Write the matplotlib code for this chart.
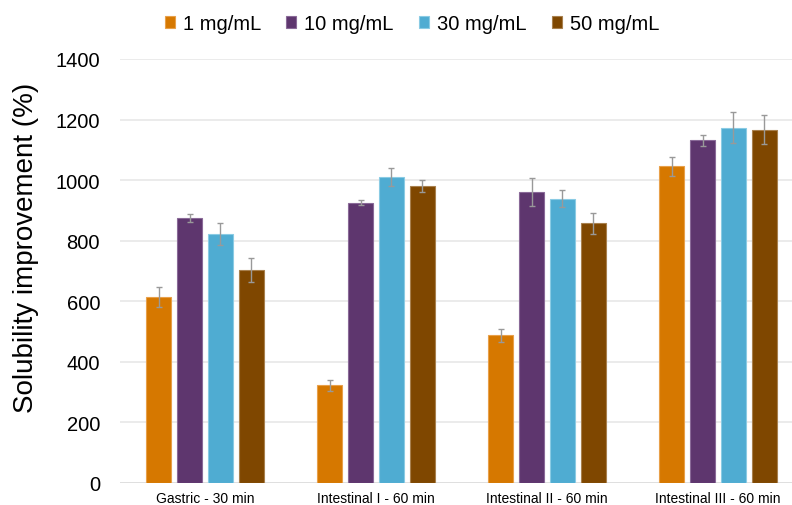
import numpy as np
import matplotlib.pyplot as plt

plt.rcParams['font.family'] = ['Liberation Sans', 'DejaVu Sans']

phases = ['Gastric - 30 min', 'Intestinal I - 60 min', 'Intestinal II - 60 min', 'Intestinal III - 60 min']
conc = ['1 mg/mL', '10 mg/mL', '30 mg/mL', '50 mg/mL']

sol_1 = [614, 323, 487, 1045]
sol_10 = [875, 925, 962, 1131]
sol_30 = [822, 1010, 939, 1173]
sol_50 = [702, 980, 857, 1167]

err_1 = [33, 18, 20, 30]
err_10 = [12, 8, 46, 18]
err_30 = [35, 30, 27, 51]
err_50 = [40, 20, 35, 47]

colors = ['#D67800', '#5E366E', '#4FACD2', '#7F4700']
edges = ['#E8A04A', '#8A6A98', '#8ACBE4', '#A8804E']

values = [sol_1, sol_10, sol_30, sol_50]
errors = [err_1, err_10, err_30, err_50]

fig = plt.figure(figsize=(7.92, 5.06), dpi=100)
# plot area runs a bit past the right edge, as in the original crop
ax = fig.add_axes([0.1509, 0.0435, 0.8636, 0.838])

x = np.arange(len(phases))
bar_width = 0.143
pitch = 0.181
for i in range(4):
    pos = x + (i - 1.5) * pitch
    ax.bar(pos, values[i], width=bar_width, color=colors[i], edgecolor=edges[i],
           linewidth=0.8, label=conc[i], zorder=3)
    ax.errorbar(pos, values[i], yerr=errors[i], fmt='none', ecolor='#999999',
                elinewidth=1.0, capsize=2.5, capthick=1.0, zorder=4)

ax.set_xlim(-0.5, 3.5)
ax.set_ylim(0, 1400)
ax.set_yticks(range(0, 1401, 200))
ax.set_xticks(x)
ax.set_xticklabels(phases, fontsize=10)
ax.tick_params(axis='y', labelsize=14.5, length=0, pad=14)
ax.tick_params(axis='x', length=0, pad=6)
ax.yaxis.grid(True, color='#E8E8E8', linewidth=1.2, zorder=0)
ax.set_axisbelow(True)
for s in ax.spines.values():
    s.set_visible(False)
ax.axhline(0, color='#DDDDDD', linewidth=1.2, zorder=2)

ax.set_ylabel('Solubility improvement (%)', fontsize=20, y=0.558, labelpad=12)

fig.legend(loc='center', bbox_to_anchor=(0.52, 0.951), ncol=4, frameon=False,
           fontsize=14.5, handlelength=0.5, handleheight=0.55, handletextpad=0.4,
           columnspacing=1.25)

fig.savefig('out.png', dpi=100)
